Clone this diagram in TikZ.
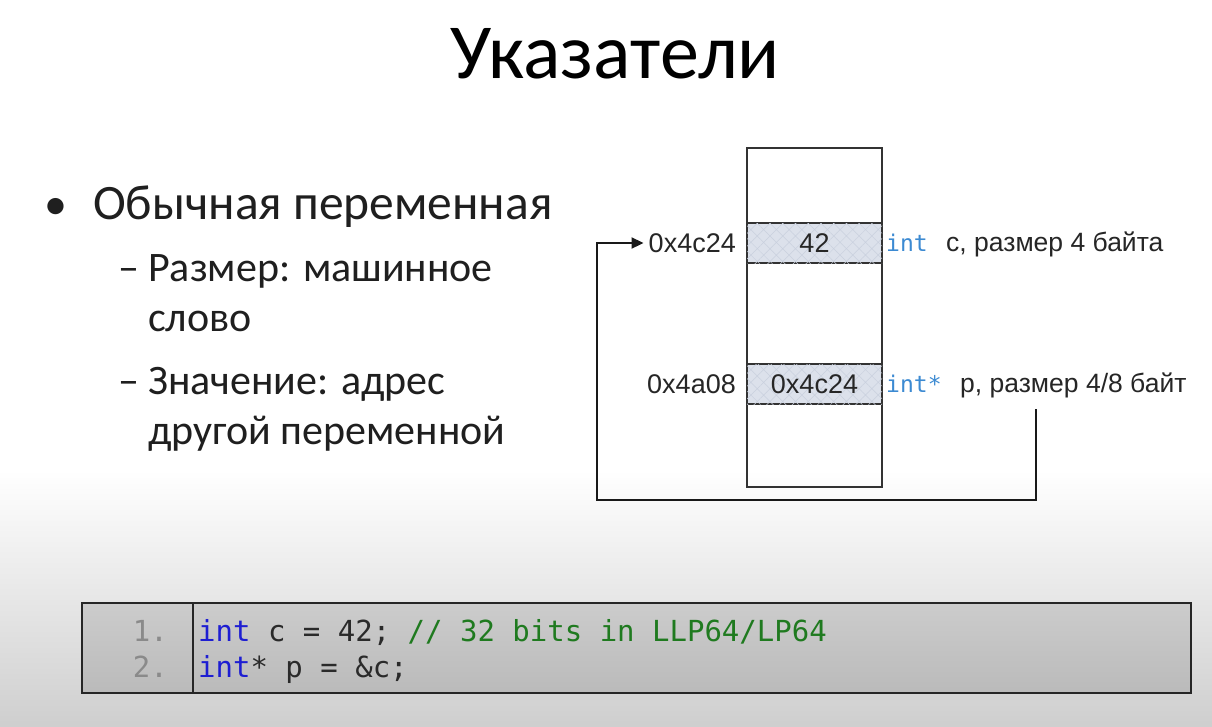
\documentclass[tikz,border=0pt]{standalone}
\usepackage{fontspec}
\setmainfont{Carlito}
\newfontfamily\arialfont{Liberation Sans}
\newfontfamily\monofont{DejaVu Sans Mono}
\usetikzlibrary{arrows.meta,patterns.meta}
\definecolor{cellfill}{HTML}{DCE1EB}
\definecolor{hatchcol}{HTML}{C9D0DE}
\definecolor{typeblue}{HTML}{3C8AD2}
\definecolor{kwblue}{HTML}{1E1ED2}
\definecolor{cmtgreen}{HTML}{1F7A1F}
\definecolor{lnumgray}{HTML}{8A8A8A}
\definecolor{codetext}{HTML}{2A2A2A}
\begin{document}
\begin{tikzpicture}[x=1pt,y=-1pt,
  memcol/.style={draw=black!80,line width=1.2pt,minimum width=135pt,inner sep=0pt},
  memcell/.style={memcol,minimum height=40pt,fill=cellfill,
    postaction={pattern={Hatch[angle=45,distance=9pt,line width=0.5pt]},pattern color=hatchcol}},
  addr/.style={font=\arialfont\fontsize{27}{32}\selectfont,text=black!85,inner sep=0pt},
  typelbl/.style={font=\arialfont\fontsize{26.5}{30}\selectfont,text=black!85,inner sep=0pt,anchor=base west},
  bodytext/.style={anchor=base west,inner sep=0pt,text=black!88},
  ptrline/.style={line width=2pt,black!90,-{Triangle[length=12pt,width=11pt]}}
]
% canvas and background
\useasboundingbox (0,0) rectangle (1212,726);
\fill[white] (0,0) rectangle (1212,726);
\shade[top color=white,bottom color=black!19] (0,470) rectangle (1212,726);

% title
\node[inner sep=0pt,anchor=base] (title) at (615,78) {\fontsize{78}{84}\selectfont Указатели};

% bullet list
\node[bodytext] (b1) at (44,219) {\fontsize{46}{50}\selectfont •};
\node[bodytext] (t1) at (93,219) {\fontsize{49.5}{54}\selectfont Обычная переменная};
\node[bodytext] (d1) at (118,281) {\fontsize{42}{46}\selectfont –};
\node[bodytext] (t2) at (148,281) {\fontsize{42}{46}\selectfont Размер: машинное};
\node[bodytext] (t3) at (148,331) {\fontsize{42}{46}\selectfont слово};
\node[bodytext] (d2) at (118,394) {\fontsize{42}{46}\selectfont –};
\node[bodytext] (t4) at (148,394) {\fontsize{42}{46}\selectfont Значение: адрес};
\node[bodytext] (t5) at (148,444) {\fontsize{42}{46}\selectfont другой переменной};

% memory column with two occupied cells
\node[memcol,minimum height=339pt] (mem) at (814.5,317.5) {};
\node[memcell] (cellc) at (814.5,243) {};
\node[addr] at (cellc) {42};
\node[memcell] (cellp) at (814.5,384) {};
\node[addr] at (cellp) {0x4c24};

% addresses
\node[addr,anchor=east] (addrc) at (736,243) {0x4c24};
\node[addr,anchor=east] (addrp) at (736,384) {0x4a08};

% declarations beside the cells
\node[typelbl] (typec) at (886,251) {\monofont\fontsize{23}{28}\selectfont\color{typeblue}int};
\node[typelbl] (namec) at (946,251) {c, размер 4 байта};
\node[typelbl] (typep) at (886,392) {\monofont\fontsize{23}{28}\selectfont\color{typeblue}int*};
\node[typelbl] (namep) at (960,392) {p, размер 4/8 байт};

% pointer arrow from p back to the address of c
\coordinate (pstart) at (1036,409);
\coordinate (pbottom) at (1036,500);
\coordinate (pleft) at (597,500);
\draw[ptrline] (pstart) -- (pbottom) -- (pleft) |- ([xshift=-5pt]addrc.west);

% code listing
\node[draw=black!85,line width=2pt,minimum width=1109pt,minimum height=90pt,inner sep=0pt,
  top color=black!20,bottom color=black!27] (code) at (636.5,648) {};
\draw[black!85,line width=1.5pt] (193,603) -- (193,693);
\node[anchor=base east,inner sep=0pt,text=lnumgray,font=\monofont\fontsize{29}{34}\selectfont] (n1) at (168,641) {1.};
\node[anchor=base east,inner sep=0pt,text=lnumgray,font=\monofont\fontsize{29}{34}\selectfont] (n2) at (168,677) {2.};
\node[anchor=base west,inner sep=0pt,text=codetext,font=\monofont\fontsize{29}{34}\selectfont] (l1) at (198,641)
  {\textcolor{kwblue}{int} c = 42; \textcolor{cmtgreen}{// 32 bits in LLP64/LP64}};
\node[anchor=base west,inner sep=0pt,text=codetext,font=\monofont\fontsize{29}{34}\selectfont] (l2) at (198,677)
  {\textcolor{kwblue}{int}* p = \&c;};
\end{tikzpicture}
\end{document}
